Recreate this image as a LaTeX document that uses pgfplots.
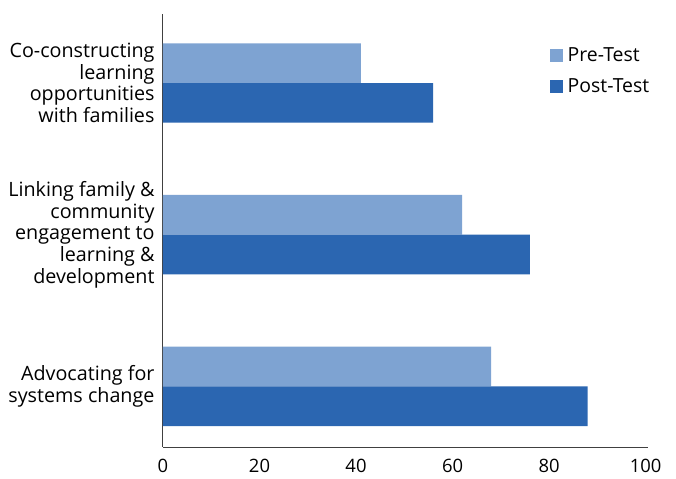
\documentclass[border=0pt]{standalone}
\usepackage{pgfplots}
\pgfplotsset{compat=1.18}
\usepackage{fontspec}
\setmainfont{Open Sans}
\definecolor{preC}{HTML}{7EA3D2}
\definecolor{postC}{HTML}{2B66B1}
\begin{document}
\begin{tikzpicture}
\begin{axis}[
  at={(0,0)}, anchor=south west,
  scale only axis, width=485bp, height=433bp,
  xbar, bar width=0.262,
  xmin=0, xmax=100.5, ymin=-0.40, ymax=2.455,
  xtick={0,20,40,60,80,100},
  ytick={0,1,2},
  yticklabels={{Advocating for\\systems change},{Linking family \&\\community\\engagement to\\learning \&\\development},{Co-constructing\\learning\\opportunities\\with families}},
  yticklabel style={align=right, font=\fontsize{19.8}{21.7}\selectfont, xshift=-5bp},
  xticklabel style={font=\fontsize{18.5}{20}\selectfont, yshift=-9bp},
  /pgf/number format/assume math mode=true,
  axis lines*=left,
  axis line style={line width=1pt, color=black!75},
  major tick length=0pt,
  legend style={draw=none, at={(0.797,0.927)}, anchor=north west, font=\fontsize{19.5}{20}\selectfont, row sep=11bp, column sep=3bp, inner sep=0pt},
  legend cell align=left,
  legend image code/.code={\fill[#1] (0bp,-7bp) rectangle (13bp,6bp);},
  clip=false,
]
\addplot[fill=preC, draw=none, bar shift=0.131] coordinates {(68,0) (62,1) (41,2)};
\addplot[fill=postC, draw=none, bar shift=-0.131] coordinates {(88,0) (76,1) (56,2)};
\legend{Pre-Test, Post-Test}
\end{axis}
\pgfresetboundingbox
\path[use as bounding box] (-163bp,-32bp) rectangle (513bp,447bp);
\end{tikzpicture}
\end{document}
